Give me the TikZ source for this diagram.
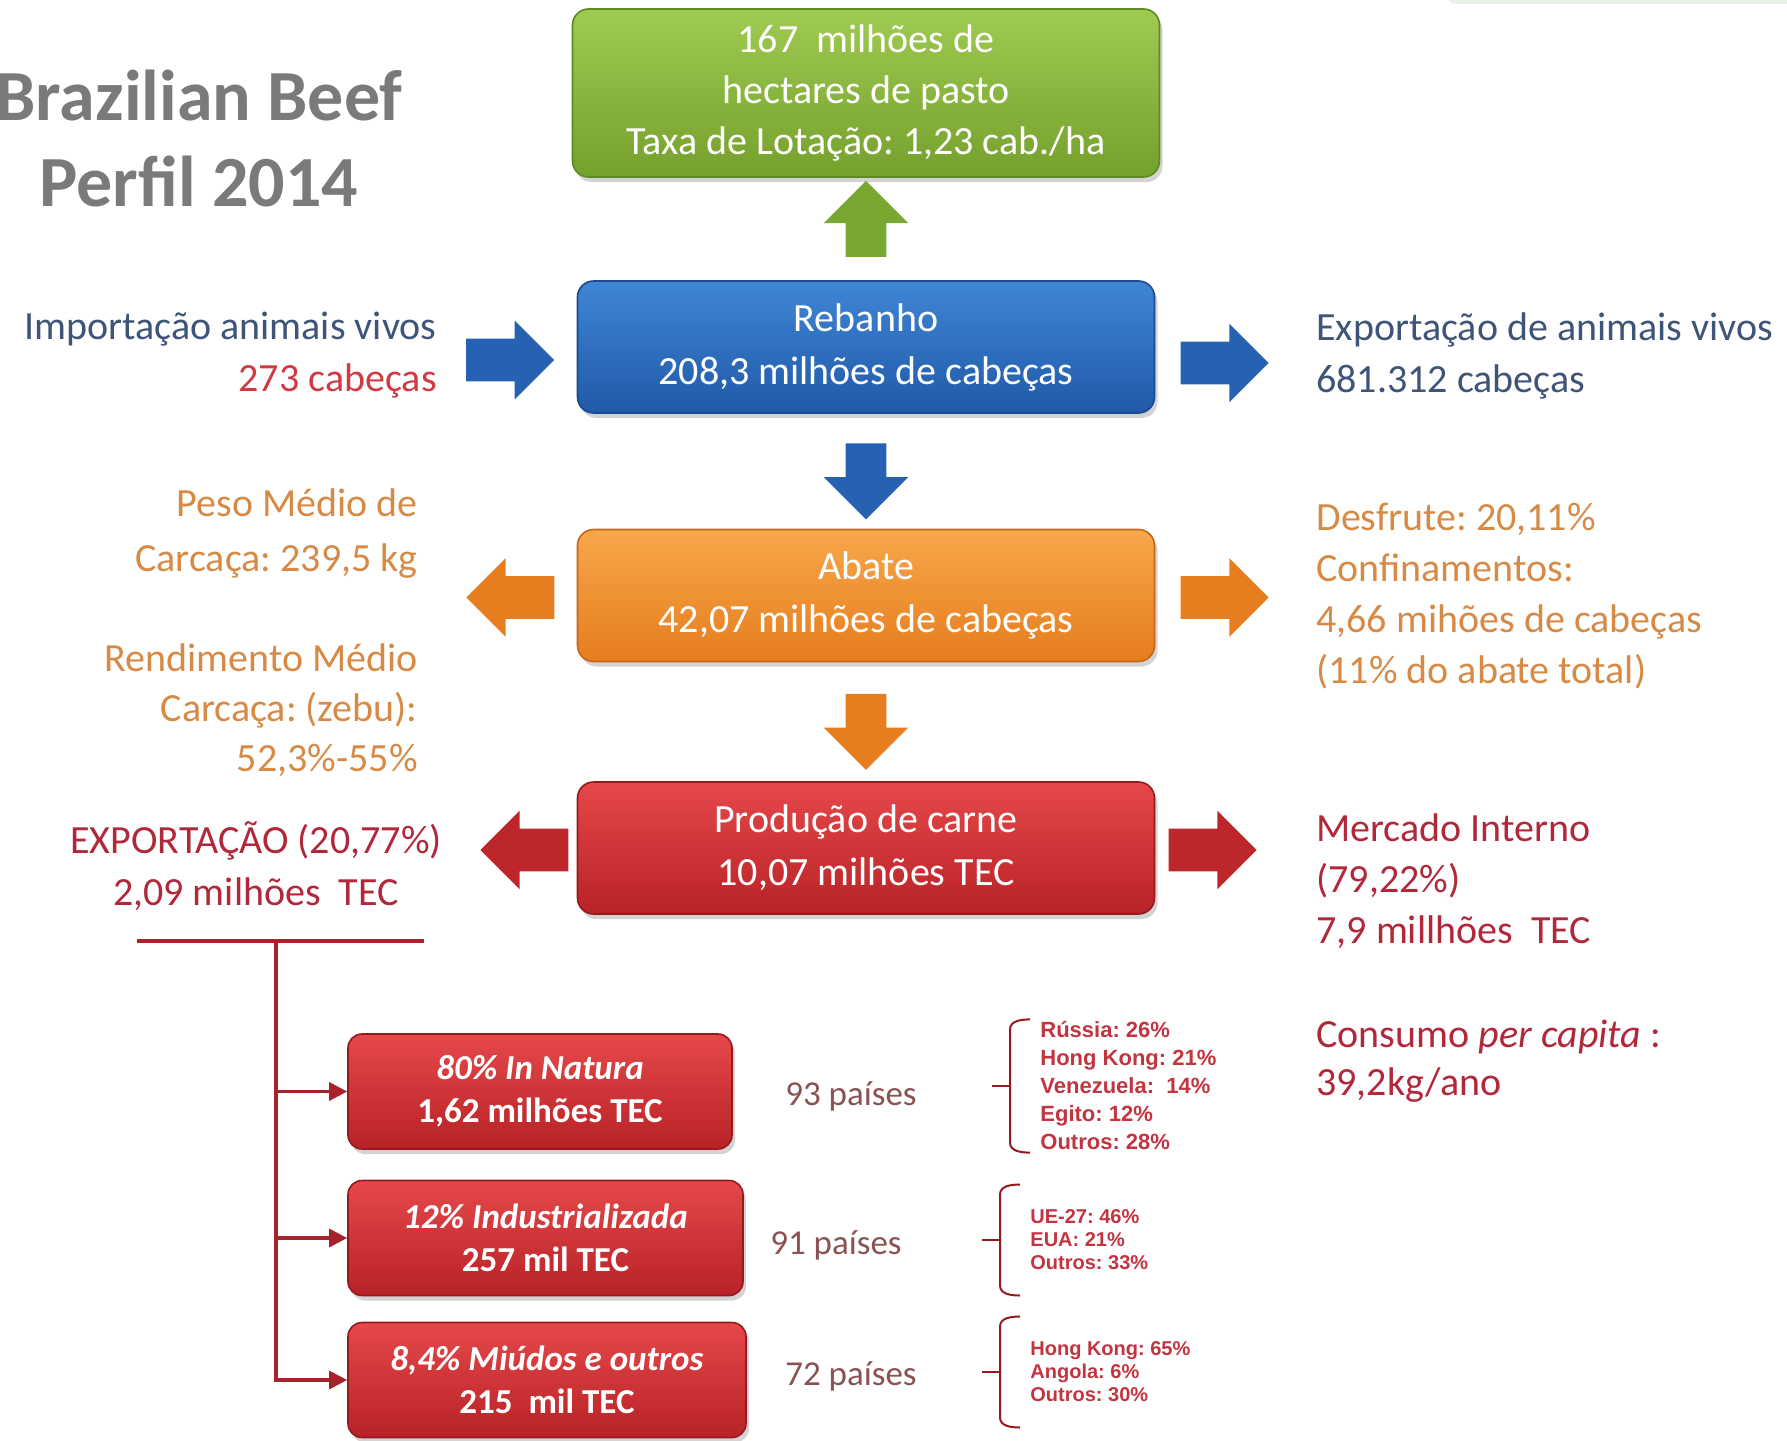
\documentclass[tikz,border=0pt]{standalone}
\usepackage{fontspec}
\setmainfont{Carlito}
\newfontfamily\listafont{Liberation Sans}
\usepackage{xcolor}
\usetikzlibrary{positioning, calc, shapes.arrows, shadows, arrows.meta}
\frenchspacing

\definecolor{verdeA}{HTML}{9FCB52}
\definecolor{verdeB}{HTML}{74A02C}
\definecolor{verdeD}{HTML}{5E8A24}
\definecolor{azulA}{HTML}{3F86D6}
\definecolor{azulB}{HTML}{2059A8}
\definecolor{azulD}{HTML}{1B4A8E}
\definecolor{laranjaA}{HTML}{F7A74A}
\definecolor{laranjaB}{HTML}{E67D1E}
\definecolor{laranjaD}{HTML}{C7661A}
\definecolor{vermA}{HTML}{E5484A}
\definecolor{vermB}{HTML}{B82226}
\definecolor{vermD}{HTML}{96191D}
\definecolor{txtAzul}{HTML}{3E5478}
\definecolor{txtLaranja}{HTML}{D78A45}
\definecolor{txtVerm}{HTML}{B0283A}
\definecolor{txtVermVivo}{HTML}{D03A42}
\definecolor{txtPais}{HTML}{8A5252}
\definecolor{txtLista}{HTML}{C23440}
\definecolor{titulo}{HTML}{7A7A7A}
\definecolor{ramoCor}{HTML}{A8222C}

% colchete a esquerda de uma lista de paises
\newcommand{\desenhachave}[1]{%
  \draw[colchete] ([xshift=-5pt]#1.north west) to[out=180,in=90] ([xshift=-15pt,yshift=-5pt]#1.north west)
    -- ([xshift=-15pt,yshift=5pt]#1.south west) to[out=-90,in=180] ([xshift=-5pt]#1.south west);
  \draw[colchete] ([xshift=-15pt]#1.west) -- ++(-18,0);}

\begin{document}
\begin{tikzpicture}[x=0.5pt, y=-0.5pt, >=Stealth,
    caixa/.style={rounded corners=8pt, minimum width=288.5pt, minimum height=66pt, align=center,
      text=white, line width=0.8pt, font=\fontsize{20}{26.5}\selectfont,
      drop shadow={opacity=0.35, shadow xshift=1.5pt, shadow yshift=-2.5pt}},
    caixinha/.style={rounded corners=7pt, minimum height=57.5pt, align=center, text=white,
      draw=vermD, line width=0.8pt, top color=vermA, bottom color=vermB,
      font=\bfseries\fontsize{17.5}{21.5}\selectfont,
      drop shadow={opacity=0.35, shadow xshift=1.5pt, shadow yshift=-2.5pt}},
    seta/.style={single arrow, inner xsep=0pt, inner ysep=10.5pt, minimum height=44pt,
      single arrow head extend=9pt},
    setav/.style={single arrow, inner xsep=10pt, inner ysep=0pt, minimum height=38pt,
      single arrow head extend=11pt},
    texto/.style={inner sep=0pt, font=\fontsize{20}{26}\selectfont},
    pais/.style={inner sep=0pt, text=txtPais, font=\fontsize{17.5}{21}\selectfont},
    lista/.style={inner xsep=0pt, align=left, text=txtLista, font=\listafont\bfseries\fontsize{10}{11.5}\selectfont},
    colchete/.style={draw=vermD, line width=1pt},
    ramo/.style={draw=ramoCor, line width=1.6pt}]

    \useasboundingbox (0,0) rectangle (1787,1440);
    \clip (0,0) rectangle (1787,1440);

    % titulo
    \node[align=center, text=titulo, font=\bfseries\fontsize{36}{43.5}\selectfont] (titulo) at (199,138.5)
        {Brazilian Beef\\Perfil 2014};
    \fill[rounded corners=6pt, fill=green!30!gray!15] (1445,-20) rectangle (1800,4);

    % cadeia principal
    \node[caixa, minimum width=293.5pt, minimum height=84pt, draw=verdeD, top color=verdeA, bottom color=verdeB,
        font=\fontsize{20}{25.5}\selectfont] (pasto) at (866,93)
        {167\ \ milhões de\\hectares de pasto\\Taxa de Lotação: 1,23 cab./ha};
    \node[caixa, draw=azulD, top color=azulA, bottom color=azulB] (reb) at (866,347)
        {Rebanho\\208,3 milhões de cabeças};
    \node[caixa, draw=laranjaD, top color=laranjaA, bottom color=laranjaB] (abate) at (866,595.5)
        {Abate\\42,07 milhões de cabeças};
    \node[caixa, draw=vermD, top color=vermA, bottom color=vermB] (prod) at (866,848)
        {Produção de carne\\10,07 milhões TEC};

    % setas entre as caixas
    \node[setav, fill=verdeB!85!verdeA, shape border rotate=90] (sobe) at ($(reb.north)!0.5!(pasto.south)$) {};
    \node[setav, fill=azulB!80!azulA, shape border rotate=270] (desce1) at ($(reb.south)!0.5!(abate.north)$) {};
    \node[setav, fill=laranjaB, shape border rotate=270] (desce2) at ($(abate.south)!0.5!(prod.north)$) {};

    % setas laterais
    \node[seta, fill=azulB!80!azulA] (entra) [left=11pt of reb, yshift=-6.5pt] {};
    \node[seta, fill=azulB!80!azulA] (sai) [right=12.5pt of reb, yshift=-8pt] {};
    \node[seta, fill=laranjaB, shape border rotate=180] (pesoS) [left=11pt of abate, yshift=-1pt] {};
    \node[seta, fill=laranjaB] (desfS) [right=12.5pt of abate, yshift=-1pt] {};
    \node[seta, fill=vermB!90!vermA, shape border rotate=180] (expoS) [left=4pt of prod, yshift=-1pt] {};
    \node[seta, fill=vermB!90!vermA] (mercS) [right=6.5pt of prod, yshift=-1pt] {};

    % textos laterais
    \node[texto, anchor=east, align=right, text=txtAzul] (imp) at (437,355.5)
        {Importação animais vivos\\{\color{txtVermVivo}273 cabeças}};
    \node[texto, anchor=west, align=left, text=txtAzul] (exp) at (1316,355.5)
        {Exportação de animais vivos\\681.312 cabeças};
    \node[texto, anchor=east, align=right, text=txtLaranja, font=\fontsize{20}{27.5}\selectfont] (peso) at (418,533.5)
        {Peso Médio de\\Carcaça: 239,5 kg};
    \node[texto, anchor=east, align=right, text=txtLaranja, font=\fontsize{20}{25}\selectfont] (rend) at (418,710)
        {Rendimento Médio\\Carcaça: (zebu):\\52,3\%-55\%};
    \node[texto, anchor=west, align=left, text=txtLaranja, font=\fontsize{20}{25.5}\selectfont] (desf) at (1316,596.5)
        {Desfrute: 20,11\%\\Confinamentos:\\4,66 mihões de cabeças\\(11\% do abate total)};
    \node[texto, align=center, text=txtVerm] (expo) at (256,866)
        {EXPORTAÇÃO (20,77\%)\\2,09 milhões\ \ TEC};
    \node[texto, anchor=west, align=left, text=txtVerm, font=\fontsize{20}{25.5}\selectfont] (merc) at (1316,881)
        {Mercado Interno\\(79,22\%)\\7,9 millhões\ \ TEC};
    \node[texto, anchor=west, align=left, text=txtVerm, font=\fontsize{20}{24}\selectfont] (cons) at (1316,1061)
        {Consumo \textit{per capita} :\\39,2kg/ano};

    % destinos da exportacao
    \node[caixinha, minimum width=192pt] (natura) at (540,1091.5) {\textit{80\% In Natura}\\1,62 milhões TEC};
    \node[caixinha, minimum width=197.5pt] (indus) at (545.5,1238) {\textit{12\% Industrializada}\\257 mil TEC};
    \node[caixinha, minimum width=199pt] (miudos) at (547,1380) {\textit{8,4\% Miúdos e outros}\\215\ \ mil TEC};

    \coordinate (barraW) at (137,941);
    \coordinate (barraE) at (424,941);
    \coordinate (tronco) at (276,941);
    \draw[ramo, line width=2pt] (barraW) -- (barraE);
    \draw[ramo, -{Triangle[length=9pt, width=9pt]}] (tronco) |- (natura.west);
    \draw[ramo, -{Triangle[length=9pt, width=9pt]}] (tronco) |- (indus.west);
    \draw[ramo, -{Triangle[length=9pt, width=9pt]}] (tronco) |- (miudos.west);

    \node[pais] (n93) at (851,1096) {93 países};
    \node[pais] (n91) at (836,1245) {91 países};
    \node[pais] (n72) at (851,1376) {72 países};

    \node[lista, anchor=west, inner ysep=1pt, font=\listafont\bfseries\fontsize{11}{14}\selectfont] (lista1) at (1040,1086)
        {Rússia: 26\%\\Hong Kong: 21\%\\Venezuela:\ \ 14\%\\Egito: 12\%\\Outros: 28\%};
    \node[lista, anchor=west, inner ysep=12.5pt] (lista2) at (1030,1240)
        {UE-27: 46\%\\EUA: 21\%\\Outros: 33\%};
    \node[lista, anchor=west, inner ysep=12.5pt] (lista3) at (1030,1372)
        {Hong Kong: 65\%\\Angola: 6\%\\Outros: 30\%};
    \desenhachave{lista1}
    \desenhachave{lista2}
    \desenhachave{lista3}
\end{tikzpicture}
\end{document}
